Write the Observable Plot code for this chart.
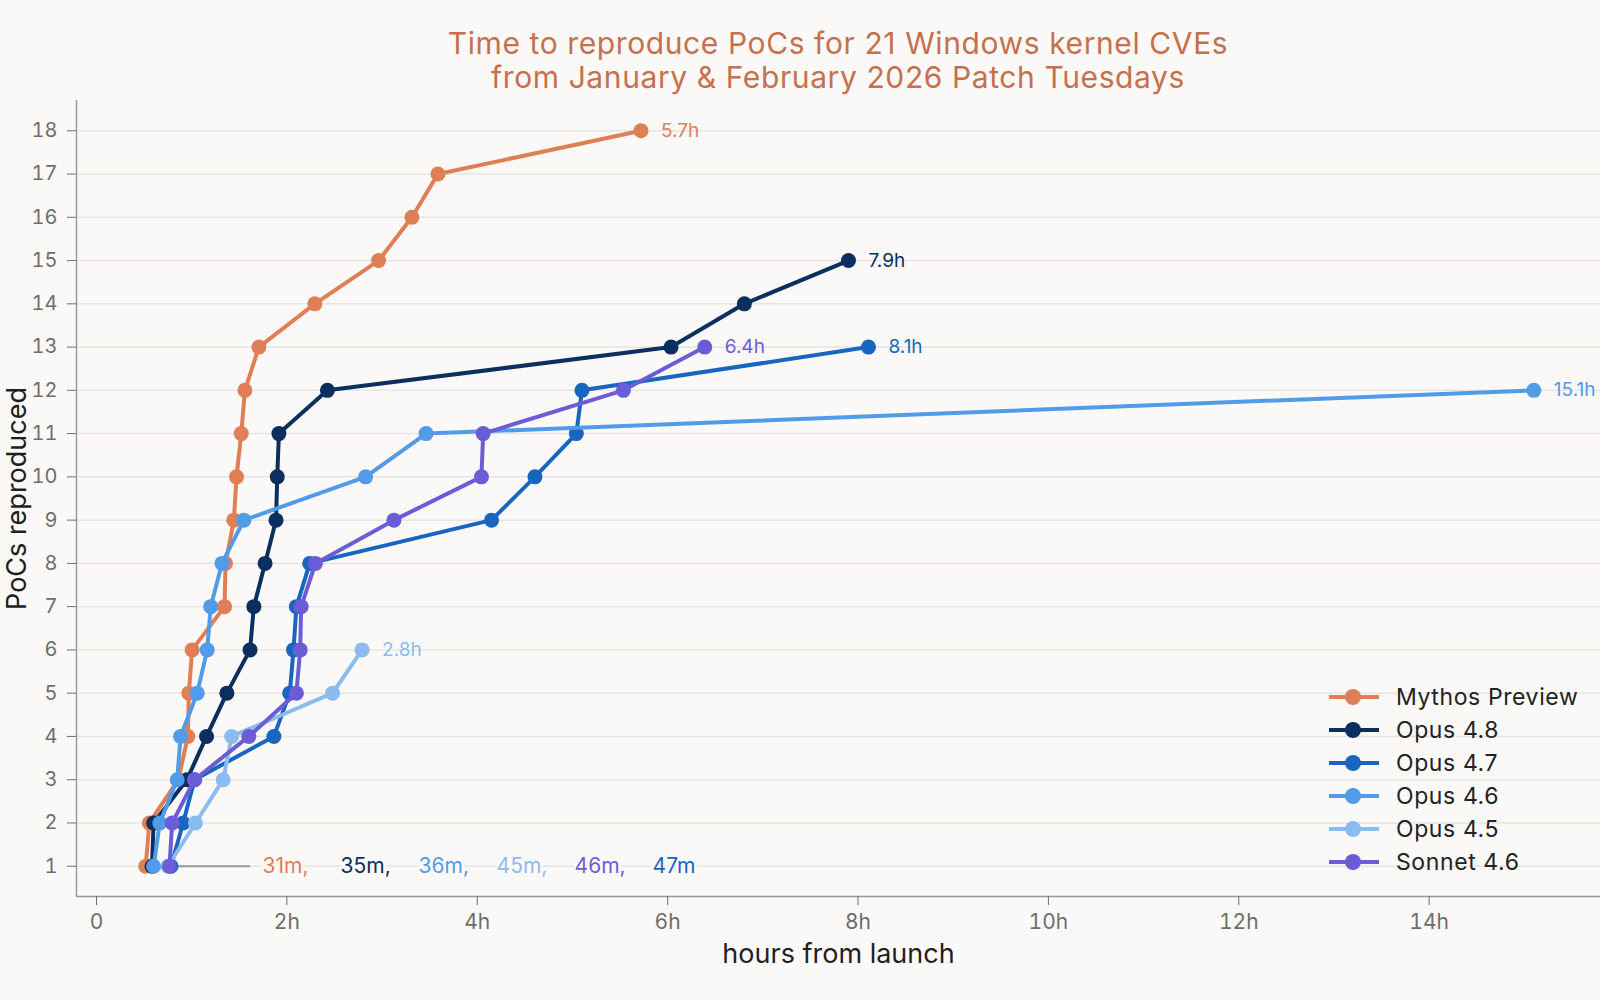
<!DOCTYPE html>
<html>
<head>
<meta charset="utf-8">
<script src="https://cdn.jsdelivr.net/npm/d3@7"></script>
<script src="https://cdn.jsdelivr.net/npm/@observablehq/plot@0.6"></script>
<style>
  body { margin: 0; background: #fbf9f7; font-family: Inter, "Noto Sans", sans-serif; }
  #wrap { position: relative; width: 1600px; height: 1000px; overflow: hidden; }
  #title { position: absolute; left: 76px; width: 1524px; top: 26px; text-align: center;
           font-size: 30px; line-height: 34px; letter-spacing: 0.6px; color: #c6704d; }
  #chart { position: absolute; left: 0; top: 90px; }
  #legend { position: absolute; left: 1329px; top: 680px; }
  .item { display: flex; align-items: center; height: 33px; font-size: 23px; letter-spacing: 0.6px; color: #222; }
  .item svg { margin-right: 17px; }
</style>
</head>
<body>
<div id="wrap">
  <div id="title">Time to reproduce PoCs for 21 Windows kernel CVEs<br>from January &amp; February 2026 Patch Tuesdays</div>
  <div id="chart"></div>
  <div id="legend"></div>
</div>
<script>
// Hours from launch at which each successive PoC was reproduced (PoC count = index + 1)
const mythosPreview = [0.517, 0.555, 0.86, 0.96, 0.97, 1.005, 1.345, 1.356, 1.443, 1.471, 1.521, 1.559, 1.706, 2.294, 2.964, 3.314, 3.587, 5.72];
const opus48 = [0.583, 0.60, 0.95, 1.156, 1.37, 1.613, 1.653, 1.771, 1.886, 1.899, 1.916, 2.426, 6.036, 6.806, 7.9];
const opus47 = [0.783, 0.91, 1.03, 1.864, 2.03, 2.07, 2.10, 2.24, 4.15, 4.606, 5.041, 5.10, 8.11];
const opus46 = [0.6, 0.665, 0.848, 0.883, 1.058, 1.163, 1.2, 1.318, 1.548, 2.827, 3.463, 15.1];
const opus45 = [0.75, 1.04, 1.331, 1.42, 2.48, 2.79];
const sonnet46 = [0.767, 0.795, 1.03, 1.60, 2.10, 2.14, 2.15, 2.30, 3.125, 4.044, 4.062, 5.535, 6.39];

const seriesNames = ["Mythos Preview", "Opus 4.8", "Opus 4.7", "Opus 4.6", "Opus 4.5", "Sonnet 4.6"];
const seriesValues = [mythosPreview, opus48, opus47, opus46, opus45, sonnet46];
const seriesColors = ["#e07f55", "#0b2f5e", "#1866c0", "#529be8", "#8abcf0", "#6b5dd8"];
const drawOrder = ["Mythos Preview", "Opus 4.8", "Opus 4.7", "Opus 4.5", "Opus 4.6", "Sonnet 4.6"];

const xTicks = [0, 2, 4, 6, 8, 10, 12, 14];
const yTicks = d3.range(1, 19);
const xDomain = [-0.21, 15.8];
const yDomain = [0.3, 18.7];
const labelAnchorHours = 1.745;
const leaderEndHours = 1.62;

const rows = [];
seriesNames.forEach((name, i) => {
  seriesValues[i].forEach((h, j) => rows.push({series: name, hours: h, pocs: j + 1}));
});
const colorOf = name => seriesColors[seriesNames.indexOf(name)];

const firsts = seriesNames.map((name, i) => ({series: name, hours: seriesValues[i][0]}))
  .sort((a, b) => a.hours - b.hours);
const firstMax = d3.max(firsts, d => d.hours);

const marks = [
  Plot.gridY(yTicks, {stroke: "#e8e4e1", strokeOpacity: 1, strokeWidth: 1.5}),
  Plot.ruleX([xDomain[0]], {stroke: "#9c9a98", strokeWidth: 1.5}),
  Plot.ruleY([yDomain[0]], {stroke: "#9c9a98", strokeWidth: 1.5}),
  Plot.axisY(yTicks, {tickSize: 9, tickPadding: 10, fontSize: 20, color: "#6f6d6b", label: null}),
  Plot.axisX(xTicks, {tickSize: 9, tickPadding: 9, fontSize: 21, color: "#6f6d6b", label: null,
    tickFormat: d => d === 0 ? "0" : `${d}h`}),
  Plot.ruleY([1], {x1: firstMax, x2: leaderEndHours, stroke: "#9a9896", strokeWidth: 2}),
  Plot.text(["PoCs reproduced"], {frameAnchor: "left", textAnchor: "middle", rotate: -90, dx: -59,
    fontSize: 27, fill: "#1f1f1f", style: "letter-spacing:0.6px"}),
  Plot.text(["hours from launch"], {frameAnchor: "bottom", textAnchor: "middle", dy: 66, fontSize: 27,
    fill: "#1f1f1f", style: "letter-spacing:0.6px"})
];

drawOrder.forEach(name => {
  const data = rows.filter(d => d.series === name);
  const c = colorOf(name);
  marks.push(Plot.line(data, {x: "hours", y: "pocs", stroke: c, strokeWidth: 4, strokeLinejoin: "round"}));
  marks.push(Plot.dot(data, {x: "hours", y: "pocs", r: 7.5, fill: c}));
  marks.push(Plot.text(data.slice(-1), {x: "hours", y: "pocs", text: d => `${d.hours.toFixed(1)}h`,
    dx: 20, textAnchor: "start", fontSize: 19, fill: c}));
});

firsts.forEach((d, i) => {
  const last = i === firsts.length - 1;
  marks.push(Plot.text([d], {x: () => labelAnchorHours, y: () => 1,
    text: d => `${Math.round(d.hours * 60)}m${last ? "" : ","}`,
    dx: i * 78, textAnchor: "start", fontSize: 21, fill: colorOf(d.series),
    stroke: "#fbf9f7", strokeWidth: 6, paintOrder: "stroke"}));
});

const chart = Plot.plot({
  width: 1600,
  height: 910,
  marginLeft: 76,
  marginRight: 0,
  marginTop: 10,
  marginBottom: 104,
  style: {background: "transparent", fontFamily: "Inter, 'Noto Sans', sans-serif", overflow: "visible"},
  x: {domain: xDomain},
  y: {domain: yDomain},
  marks
});
document.getElementById("chart").appendChild(chart);

// Legend
const legend = d3.select("#legend");
seriesNames.forEach((name, i) => {
  const item = legend.append("div").attr("class", "item");
  const svg = item.append("svg").attr("width", 50).attr("height", 20);
  svg.append("line").attr("x1", 0).attr("x2", 50).attr("y1", 10).attr("y2", 10)
    .attr("stroke", seriesColors[i]).attr("stroke-width", 4);
  svg.append("circle").attr("cx", 24).attr("cy", 10).attr("r", 8).attr("fill", seriesColors[i]);
  item.append("span").text(name);
});
</script>
</body>
</html>
